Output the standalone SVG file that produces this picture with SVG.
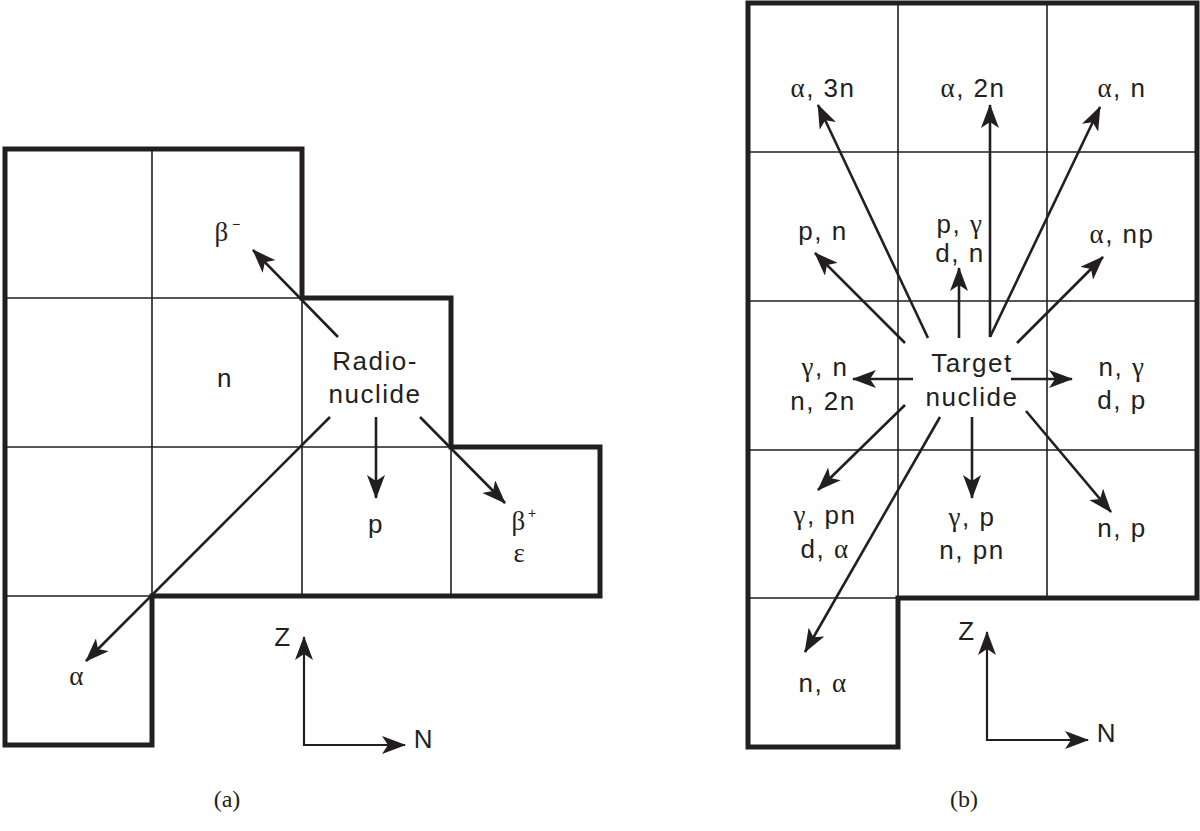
<svg xmlns="http://www.w3.org/2000/svg" width="1200" height="831" viewBox="0 0 1200 831">
<style>
.thick{fill:none;stroke:#231f20;stroke-width:5;stroke-linejoin:miter}
.thin{fill:none;stroke:#231f20;stroke-width:1.6}
.arr{fill:none;stroke:#231f20;stroke-width:2.6;marker-end:url(#ah)}
.ax{fill:none;stroke:#231f20;stroke-width:2.2;marker-end:url(#ah)}
text{font-family:"Liberation Sans",Arial,sans-serif;font-size:26px;fill:#231f20;text-anchor:middle;letter-spacing:1.5px}
.g{font-family:"Liberation Serif","Times New Roman",serif;font-size:27px}
.sup{font-size:14px;letter-spacing:0}
.cap{font-family:"Liberation Serif","Times New Roman",serif;font-size:24px;letter-spacing:0}
</style>
<defs>
<marker id="ah" viewBox="0 0 24 18" refX="23" refY="9" markerWidth="24" markerHeight="18" markerUnits="userSpaceOnUse" orient="auto">
<path d="M0,0 L24,9 L0,18 L6,9 Z" fill="#231f20"/>
</marker>
</defs>
<rect width="1200" height="831" fill="#fff"/>

<g id="chart-a">
<g id="grid-a">
<path class="thin" d="M152,149 V596 M302,298 V596 M451,447 V596 M5,298 H302 M5,447 H451 M5,596 H152"/>
<path class="thick" d="M5,149 H302 V298 H451 V447 H600 V596 H152 V745 H5 Z"/>
</g>
<g id="connectors-a">
<line class="arr" x1="338" y1="337" x2="253" y2="250"/>
<line class="arr" x1="376" y1="417" x2="376" y2="498"/>
<line class="arr" x1="420" y1="417" x2="505" y2="503"/>
<line class="arr" x1="330" y1="417" x2="86" y2="661"/>
<line class="ax" x1="304" y1="746" x2="304" y2="637"/>
<line class="ax" x1="303" y1="745" x2="405" y2="745"/>
</g>
<g id="node-radionuclide"><text x="375" y="370">Radio-</text><text x="375" y="403">nuclide</text></g>
<g id="node-bminus"><text class="g" x="222" y="241">β</text><text class="sup" x="236" y="229">−</text></g>
<g id="node-n"><text x="225" y="387">n</text></g>
<g id="node-p"><text x="376" y="533">p</text></g>
<g id="node-bplus"><text class="g" x="519" y="530">β</text><text class="sup" x="532" y="518">+</text><text class="g" x="520" y="562">ε</text></g>
<g id="node-alpha"><text class="g" x="77" y="685">α</text></g>
<g id="axis-a"><text x="283" y="646">Z</text><text x="424" y="748">N</text></g>
<text class="cap" x="227" y="807">(a)</text>
</g>

<g id="chart-b">
<g id="grid-b">
<path class="thin" d="M898,3 V598 M1047,3 V598 M748,152 H1197 M748,301 H1197 M748,450 H1197 M748,598 H898"/>
<path class="thick" d="M748,3 H1197 V598 H898 V747 H748 Z"/>
</g>
<g id="connectors-b">
<line class="arr" x1="928" y1="338" x2="818" y2="105"/>
<line class="arr" x1="990" y1="337" x2="990" y2="105"/>
<line class="arr" x1="990" y1="337" x2="1100" y2="107"/>
<line class="arr" x1="905" y1="343" x2="815" y2="253"/>
<line class="arr" x1="959" y1="338" x2="959" y2="268"/>
<line class="arr" x1="1017" y1="343" x2="1103" y2="257"/>
<line class="arr" x1="913" y1="379" x2="853" y2="379"/>
<line class="arr" x1="1011" y1="379" x2="1072" y2="379"/>
<line class="arr" x1="905" y1="405" x2="818" y2="490"/>
<line class="arr" x1="940" y1="417" x2="805" y2="652"/>
<line class="arr" x1="972" y1="417" x2="972" y2="498"/>
<line class="arr" x1="1026" y1="411" x2="1111" y2="512"/>
<line class="ax" x1="987" y1="741" x2="987" y2="632"/>
<line class="ax" x1="986" y1="740" x2="1088" y2="740"/>
</g>
<g id="node-target"><text x="972" y="372">Target</text><text x="972" y="406">nuclide</text></g>
<g id="node-a3n"><text x="823" y="97"><tspan class="g">α</tspan>, 3n</text></g>
<g id="node-a2n"><text x="973" y="97"><tspan class="g">α</tspan>, 2n</text></g>
<g id="node-an"><text x="1122" y="97"><tspan class="g">α</tspan>, n</text></g>
<g id="node-pn"><text x="823" y="240">p, n</text></g>
<g id="node-pg-dn"><text x="960" y="233">p, <tspan class="g">γ</tspan></text><text x="960" y="262">d, n</text></g>
<g id="node-anp"><text x="1122" y="243"><tspan class="g">α</tspan>, np</text></g>
<g id="node-gn-n2n"><text x="825" y="376"><tspan class="g">γ</tspan>, n</text><text x="823" y="410">n, 2n</text></g>
<g id="node-ng-dp"><text x="1122" y="376">n, <tspan class="g">γ</tspan></text><text x="1122" y="409">d, p</text></g>
<g id="node-gpn-da"><text x="825" y="524"><tspan class="g">γ</tspan>, pn</text><text x="825" y="558">d, <tspan class="g">α</tspan></text></g>
<g id="node-gp-npn"><text x="972" y="526"><tspan class="g">γ</tspan>, p</text><text x="972" y="559">n, pn</text></g>
<g id="node-np"><text x="1122" y="537">n, p</text></g>
<g id="node-na"><text x="823" y="692">n, <tspan class="g">α</tspan></text></g>
<g id="axis-b"><text x="967" y="640">Z</text><text x="1107" y="742">N</text></g>
<text class="cap" x="964" y="807">(b)</text>
</g>
</svg>
